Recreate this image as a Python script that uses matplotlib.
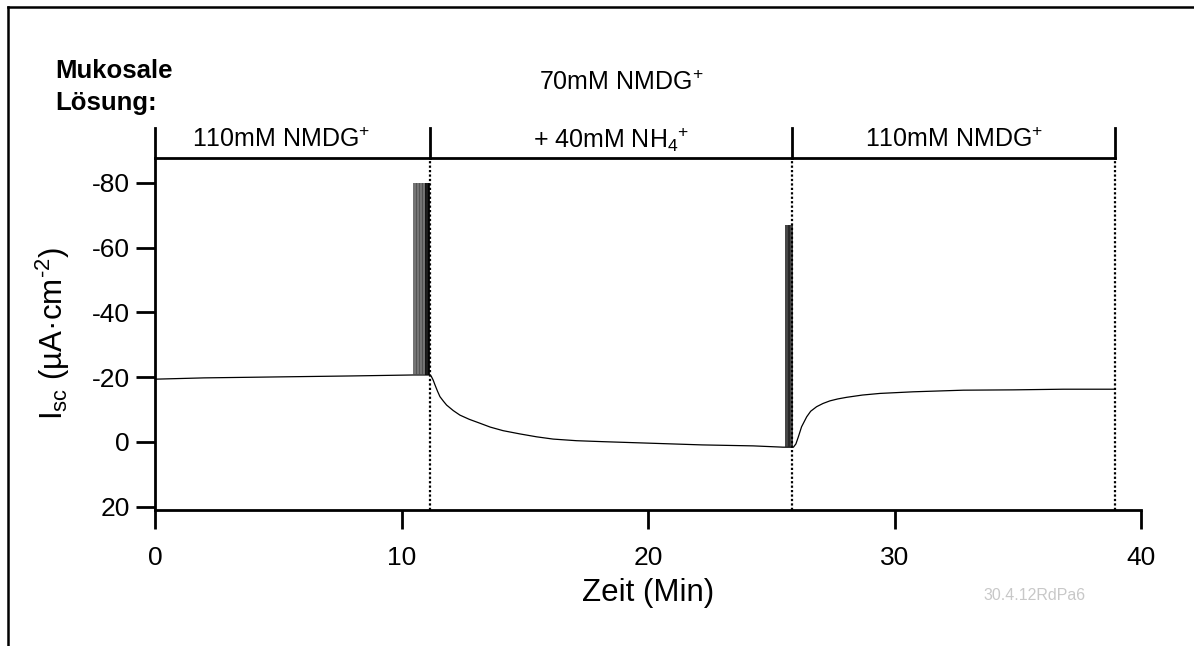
import numpy as np
import matplotlib
matplotlib.use('Agg')
from matplotlib import pyplot as plt
from matplotlib.lines import Line2D

plt.rcParams['font.family'] = ['Liberation Sans', 'DejaVu Sans']
plt.rcParams['mathtext.fontset'] = 'custom'
plt.rcParams['mathtext.rm'] = 'Liberation Sans'
plt.rcParams['mathtext.it'] = 'Liberation Sans'
plt.rcParams['axes.unicode_minus'] = False

# trace (time in min, Isc in uA/cm2)
time = [0, 2, 5, 8, 10.5, 11.15, 11.2, 11.28, 11.36, 11.46, 11.56, 11.7, 11.83, 12.1, 12.37, 12.75,
        13.18, 13.6, 14.12, 14.8, 15.48, 16.15, 17.1, 18.18, 20.2, 22.2, 24.27, 25.48, 25.9,
        26.0, 26.1, 26.23, 26.44, 26.6, 26.84, 27.1, 27.38, 27.7, 28.06, 28.7, 29.41,
        30.76, 32.79, 34.82, 36.85, 38.9]
isc = [-19.4, -19.8, -20.1, -20.4, -20.7, -20.7, -20.4, -19.2, -17.6, -15.7, -14.0, -12.6, -11.4, -9.7, -8.3, -7.0,
       -5.8, -4.6, -3.5, -2.5, -1.6, -0.9, -0.4, -0.1, 0.4, 0.9, 1.2, 1.6, 1.6,
       0.6, -1.6, -4.7, -7.8, -9.5, -10.9, -11.9, -12.7, -13.3, -13.8, -14.5, -15.0,
       -15.5, -16.0, -16.1, -16.3, -16.3]

# stimulation artefacts
spike1_t = [10.52, 10.58, 10.64, 10.70, 10.76, 10.82, 10.88, 10.94, 11.00, 11.06, 11.12]
spike1_top = -80
spike1_base = -20.7
spike2_t = [25.60, 25.66, 25.72, 25.78, 25.84]
spike2_top = -67
spike2_base = 1.6

# solution changes
changes = [0, 11.15, 25.85, 38.95]
sol_labels = [r'110mM NMDG$^{+}$', r'+ 40mM NH$_{4}$$^{+}$', r'110mM NMDG$^{+}$']
sol_x = [5.1, 18.5, 32.4]

xticks = [0, 10, 20, 30, 40]
yticks = [-80, -60, -40, -20, 0, 20]
ytick_labels = ['-80', '-60', '-40', '-20', '0', '20']

fig = plt.figure(figsize=(11.94, 6.46), dpi=100)
ax = fig.add_axes([155/1194, 1-510/646, 986/1194, 352/646])

ytop = -87.7
ax.set_xlim(0, 40)
ax.set_ylim(21, ytop)

ax.plot(time, isc, color='black', lw=0.9)
ax.vlines(spike1_t, spike1_base, spike1_top, color='#4a4a4a', lw=1.1)
ax.vlines(spike1_t[-3:], spike1_base, spike1_top, color='black', lw=1.1)
ax.vlines(spike2_t, spike2_base, spike2_top, color='#222222', lw=1.2)

# dotted lines at solution changes
for c in changes[1:]:
    ax.plot([c, c], [21, ytop], color='black', lw=1.6, ls=(0, (1, 1)))

# bracket on top
ax.plot([changes[0], changes[-1]], [ytop, ytop], color='black', lw=2, clip_on=False)
for c in changes:
    ax.plot([c, c], [ytop, ytop - 9.3], color='black', lw=2, clip_on=False)

for lab, xx in zip(sol_labels, sol_x):
    ax.text(xx, ytop - 3.3, lab, ha='center', va='baseline', fontsize=18, clip_on=False)
ax.text(18.9, ytop - 21.0, r'70mM NMDG$^{+}$', ha='center', va='baseline', fontsize=18, clip_on=False)

ax.spines['top'].set_visible(False)
ax.spines['right'].set_visible(False)
ax.spines['left'].set_linewidth(2)
ax.spines['bottom'].set_linewidth(2)

ax.set_xticks(xticks)
ax.set_yticks(yticks)
ax.set_yticklabels(ytick_labels)
ax.tick_params(axis='both', direction='out', length=14, width=2, labelsize=19)
ax.tick_params(axis='x', pad=12)
ax.tick_params(axis='y', pad=4)

ax.set_xlabel('Zeit (Min)', fontsize=22.5, labelpad=6)
ax.set_ylabel(r'I$_{\rm sc}$ (µA·cm$^{\text{-}2}$)', fontsize=22.5, labelpad=14)

fig.text(55/1194, 1-78/646, 'Mukosale', fontsize=18.5, fontweight='bold', ha='left', va='baseline')
fig.text(55/1194, 1-110/646, 'Lösung:', fontsize=18.5, fontweight='bold', ha='left', va='baseline')
fig.text(1035/1194, 1-596/646, '30.4.12RdPa6', fontsize=11.5, color='#c8c8c8', ha='center', va='center')

# frame around the figure
fig.add_artist(Line2D([8/1194, 1], [1-7/646, 1-7/646], color='black', lw=1.8, transform=fig.transFigure))
fig.add_artist(Line2D([8/1194, 8/1194], [0, 1-7/646], color='black', lw=1.8, transform=fig.transFigure))

fig.savefig('out.png', dpi=100)
